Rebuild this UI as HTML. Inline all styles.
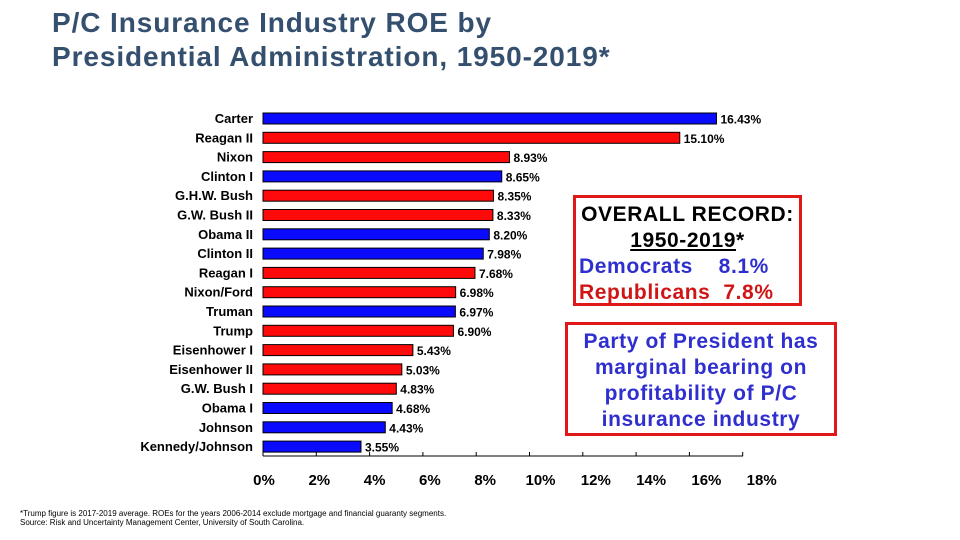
<!DOCTYPE html>
<html><head><meta charset="utf-8"><style>
body{margin:0;width:960px;height:540px;background:#fff;position:relative;overflow:hidden;font-family:"Liberation Sans",Arial,sans-serif}
.t{position:absolute;left:52px;top:6px;font-size:28px;line-height:34px;color:#34506e;font-weight:bold;letter-spacing:0.9px}
.box{position:absolute;border:3px solid #e01818;box-sizing:border-box;text-align:center;letter-spacing:0.6px;font-weight:bold;white-space:nowrap}
.fn{position:absolute;left:20px;top:509px;font-size:8px;line-height:9px;color:#000}
</style></head><body>
<div class="t">P/C Insurance Industry ROE by<br>Presidential Administration, 1950-2019*</div>
<svg id="c" width="960" height="540" style="position:absolute;left:0;top:0"></svg>
<div class="box" style="left:573px;top:195px;width:229px;height:111px;font-size:21px;line-height:26px;padding-top:4px">
<div style="color:#000;margin-left:-4px;margin-right:-4px">OVERALL RECORD:</div>
<div style="color:#000"><u>1950-2019</u>*</div>
<div style="color:#2f2fcf;text-align:left;padding-left:3px">Democrats&nbsp;&nbsp;&nbsp; 8.1%</div>
<div style="color:#d01515;text-align:left;padding-left:3px">Republicans&nbsp; 7.8%</div>
</div>
<div class="box" style="left:565px;top:322px;width:272px;height:114px;font-size:21px;line-height:26px;padding-top:4px;color:#2f2fcf">Party of President has<br>marginal bearing on<br>profitability of P/C<br>insurance industry</div>
<div class="fn">*Trump figure is 2017-2019 average. ROEs for the years 2006-2014 exclude mortgage and financial guaranty segments.<br>Source: Risk and Uncertainty Management Center, University of South Carolina.</div>
<script>
const names=["Carter","Reagan II","Nixon","Clinton I","G.H.W. Bush","G.W. Bush II","Obama II","Clinton II","Reagan I","Nixon/Ford","Truman","Trump","Eisenhower I","Eisenhower II","G.W. Bush I","Obama I","Johnson","Kennedy/Johnson"];
const values=[16.43,15.10,8.93,8.65,8.35,8.33,8.20,7.98,7.68,6.98,6.97,6.90,5.43,5.03,4.83,4.68,4.43,3.55];
const party=["D","R","R","D","R","R","D","D","R","R","D","R","R","R","R","D","D","D"];
const ticks=[0,2,4,6,8,10,12,14,16,18];
const svg=document.getElementById('c'),NS="http://www.w3.org/2000/svg";
const x0=263,sc=27.6,y0=118.5,step=19.3;
const xs=v=>x0+v*sc, ys=i=>y0+i*step;
function mk(t,a){const e=document.createElementNS(NS,t);for(const k in a)e.setAttribute(k,a[k]);svg.appendChild(e);return e;}
names.forEach((n,i)=>{
 const r=mk('rect',{x:x0,y:ys(i)-5.5,width:xs(values[i])-x0,height:11,fill:party[i]=="D"?"#0a0aff":"#ff0a0a",stroke:"#000","stroke-width":1});
 
 
 const l=mk('text',{x:253,y:ys(i)+4.5,"text-anchor":"end","font-size":13,"font-weight":"bold"});l.textContent=n;
 
 
 const v=mk('text',{x:xs(values[i])+4,y:ys(i)+5,"font-size":12,"font-weight":"bold"});v.textContent=values[i].toFixed(2)+"%";
 
 
});
const ax=mk('line',{x1:263,y1:456,x2:743,y2:456,stroke:"#000","stroke-width":1});


ticks.forEach((t,i)=>{
 const tx=263+i*53.3;
 mk('line',{x1:tx,y1:452,x2:tx,y2:456,stroke:"#000"});
 const l=mk('text',{x:x0+1+t*27.65,y:485,"text-anchor":"middle","font-size":15,"font-weight":"bold"});l.textContent=t+"%";
 
 
});
</script>
</body></html>
